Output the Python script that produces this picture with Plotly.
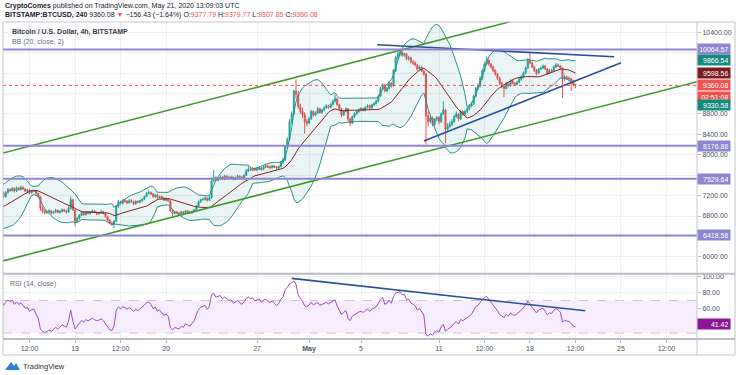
import pandas as pd
import plotly.graph_objects as go

# ---------------- data (4h candles, BITSTAMP:BTCUSD) ----------------
start_time = "2020-04-03 00:00"
first_open = 6800
closes = [
    6760, 6800, 6850, 6920, 6780, 6740,   # Apr 3
    6770, 6800, 6830, 6860, 6820, 6860,   # Apr 4
    6840, 6800, 6760, 6790, 6770, 6780,   # Apr 5
    6820, 6900, 7050, 7200, 7280, 7330,   # Apr 6
    7350, 7300, 7250, 7180, 7260, 7320,   # Apr 7
    7300, 7340, 7290, 7350, 7320, 7360,   # Apr 8
    7330, 7290, 7310, 7260, 7290, 7300,   # Apr 9
    7240, 7180, 6960, 6900, 6870, 6880,   # Apr 10
    6900, 6860, 6880, 6910, 6870, 6890,   # Apr 11
    6920, 6900, 6880, 6950, 7120, 6920,   # Apr 12
    6700, 6760, 6820, 6870, 6830, 6880,   # Apr 13
    6850, 6880, 6900, 6870, 6850, 6860,   # Apr 14
    6880, 6850, 6790, 6720, 6660, 6640,   # Apr 15
    6700, 6990, 7080, 7050, 7100, 7090,   # Apr 16
    7060, 7100, 7080, 7040, 7090, 7070,   # Apr 17
    7100, 7130, 7180, 7240, 7260, 7230,   # Apr 18
    7180, 7210, 7160, 7180, 7150, 7110,   # Apr 19
    7130, 7100, 6900, 6850, 6880, 6860,   # Apr 20
    6850, 6880, 6860, 6900, 6880, 6860,   # Apr 21
    6890, 6920, 7000, 7080, 7120, 7130,   # Apr 22
    7150, 7110, 7160, 7490, 7550, 7500,   # Apr 23
    7530, 7560, 7520, 7580, 7560, 7540,   # Apr 24
    7560, 7520, 7550, 7580, 7560, 7540,   # Apr 25
    7600, 7680, 7720, 7700, 7730, 7700,   # Apr 26
    7720, 7740, 7710, 7760, 7780, 7760,   # Apr 27
    7750, 7780, 7760, 7740, 7770, 7850,   # Apr 28
    7900, 8150, 8300, 8650, 8800, 9250,   # Apr 29
    9180, 8950, 8850, 8780, 8650, 8620,   # Apr 30
    8700, 8850, 8780, 8820, 8900, 8830,   # May 1
    8880, 8920, 8960, 8930, 8990, 9050,   # May 2
    9100, 8980, 8900, 8780, 8850, 8900,   # May 3
    8700, 8620, 8750, 8800, 8850, 8880,   # May 4
    8900, 8870, 8930, 8960, 8920, 8980,   # May 5
    9000, 9050, 9150, 9300, 9370, 9250,   # May 6
    9300, 9400, 9350, 9650, 9900, 9980,   # May 7
    10010, 9950, 9980, 9880, 9900, 9820,  # May 8
    9800, 9760, 9680, 9720, 9640, 9580,   # May 9
    8760, 8650, 8720, 8600, 8700, 8730,   # May 10
    8650, 8800, 8880, 8500, 8560, 8600,   # May 11
    8650, 8750, 8800, 8700, 8850, 8800,   # May 12
    8850, 8900, 8950, 9000, 9150, 9300,   # May 13
    9350, 9500, 9650, 9780, 9850, 9780,   # May 14
    9720, 9650, 9580, 9500, 9400, 9340,   # May 15
    9300, 9400, 9350, 9450, 9400, 9380,   # May 16
    9420, 9480, 9530, 9600, 9700, 9850,   # May 17
    9800, 9720, 9650, 9600, 9680, 9700,   # May 18
    9740, 9680, 9600, 9650, 9640, 9720,   # May 19
    9760, 9740, 9700, 9480, 9520, 9500,   # May 20
    9490, 9450, 9377.79, 9360.08,         # May 21
]
highs = [
    6830, 6820, 6870, 6990, 6940, 6800,
    6790, 6820, 6850, 6890, 6880, 6880,
    6880, 6860, 6820, 6810, 6810, 6800,
    6840, 6920, 7080, 7220, 7300, 7360,
    7420, 7460, 7330, 7280, 7290, 7350,
    7340, 7370, 7360, 7380, 7370, 7400,
    7380, 7350, 7330, 7330, 7310, 7320,
    7310, 7260, 7190, 6990, 6930, 6910,
    6930, 6920, 6900, 6940, 6930, 6910,
    6950, 6940, 6920, 6990, 7180, 7130,
    6940, 6780, 6840, 6900, 6890, 6900,
    6900, 6900, 6930, 6920, 6890, 6880,
    6920, 6900, 6870, 6810, 6740, 6690,
    6720, 7020, 7120, 7100, 7130, 7130,
    7110, 7130, 7130, 7100, 7110, 7100,
    7120, 7150, 7200, 7270, 7300, 7280,
    7250, 7230, 7230, 7200, 7200, 7170,
    7160, 7150, 7110, 6920, 6900, 6900,
    6880, 6900, 6900, 6920, 6920, 6900,
    6910, 6940, 7020, 7100, 7140, 7160,
    7180, 7170, 7190, 7560, 7700, 7580,
    7560, 7590, 7580, 7610, 7600, 7580,
    7590, 7580, 7570, 7610, 7600, 7580,
    7620, 7720, 7780, 7760, 7760, 7750,
    7750, 7770, 7760, 7790, 7800, 7800,
    7790, 7800, 7800, 7780, 7790, 7870,
    7940, 8180, 8340, 8700, 8850, 9280,
    9480, 9250, 9000, 8920, 8830, 8700,
    8740, 8880, 8870, 8850, 8940, 8920,
    8900, 8950, 8990, 8980, 9010, 9080,
    9180, 9120, 9000, 8920, 8870, 8930,
    8920, 8730, 8770, 8830, 8870, 8910,
    8930, 8920, 8950, 8990, 8980, 9000,
    9030, 9080, 9180, 9330, 9400, 9390,
    9330, 9440, 9420, 9680, 9940, 10020,
    10080, 10030, 10000, 9990, 9940, 9920,
    9860, 9830, 9780, 9750, 9740, 9660,
    9600, 8850, 8780, 8750, 8720, 8760,
    8760, 8830, 9050, 8900, 8620, 8650,
    8700, 8780, 8850, 8820, 8880, 8870,
    8880, 8930, 8980, 9040, 9180, 9330,
    9400, 9540, 9690, 9820, 9930, 9880,
    9800, 9750, 9680, 9600, 9530, 9430,
    9370, 9430, 9420, 9480, 9470, 9420,
    9450, 9510, 9560, 9630, 9730, 9890,
    9990, 9830, 9750, 9680, 9700, 9730,
    9770, 9760, 9700, 9680, 9690, 9750,
    9800, 9790, 9760, 9710, 9560, 9550,
    9530, 9510, 9470, 9379.77,
]
lows = [
    6740, 6740, 6780, 6830, 6760, 6710,
    6720, 6750, 6780, 6810, 6800, 6800,
    6820, 6780, 6730, 6740, 6750, 6750,
    6760, 6800, 6880, 7030, 7170, 7250,
    7300, 7280, 7220, 7150, 7160, 7240,
    7270, 7280, 7260, 7270, 7300, 7300,
    7310, 7270, 7270, 7230, 7240, 7270,
    7220, 7150, 6900, 6850, 6830, 6840,
    6850, 6830, 6840, 6860, 6850, 6850,
    6870, 6880, 6850, 6860, 6930, 6900,
    6590, 6660, 6730, 6800, 6800, 6810,
    6830, 6830, 6860, 6850, 6820, 6830,
    6840, 6830, 6770, 6700, 6640, 6610,
    6560, 6680, 6960, 7020, 7030, 7060,
    7030, 7040, 7060, 7010, 7020, 7050,
    7050, 7080, 7110, 7170, 7220, 7210,
    7160, 7160, 7140, 7140, 7130, 7090,
    7090, 7080, 6880, 6790, 6830, 6840,
    6820, 6830, 6840, 6840, 6860, 6840,
    6840, 6870, 6900, 6980, 7060, 7100,
    7100, 7080, 7090, 7140, 7460, 7480,
    7480, 7510, 7500, 7500, 7540, 7520,
    7520, 7500, 7500, 7530, 7540, 7510,
    7520, 7580, 7660, 7680, 7680, 7680,
    7680, 7700, 7690, 7700, 7740, 7740,
    7720, 7730, 7740, 7710, 7720, 7750,
    7820, 7880, 8120, 8280, 8600, 8780,
    9100, 8900, 8800, 8720, 8420, 8560,
    8600, 8680, 8750, 8760, 8800, 8800,
    8800, 8850, 8900, 8900, 8910, 8960,
    9020, 8960, 8870, 8740, 8760, 8830,
    8660, 8560, 8600, 8720, 8780, 8820,
    8850, 8850, 8850, 8910, 8900, 8900,
    8950, 8980, 9030, 9130, 9280, 9220,
    9230, 9280, 9320, 9330, 9620, 9860,
    9940, 9920, 9920, 9850, 9850, 9790,
    9760, 9730, 9650, 9660, 9620, 9550,
    8200, 8560, 8620, 8560, 8560, 8660,
    8600, 8620, 8780, 8230, 8450, 8530,
    8560, 8620, 8720, 8660, 8680, 8760,
    8770, 8820, 8870, 8930, 8980, 9120,
    9270, 9320, 9470, 9620, 9750, 9740,
    9690, 9620, 9550, 9470, 9370, 9300,
    9130, 9280, 9320, 9330, 9380, 9350,
    9360, 9400, 9450, 9500, 9580, 9680,
    9780, 9700, 9620, 9560, 9580, 9660,
    9680, 9660, 9570, 9580, 9610, 9620,
    9700, 9720, 9670, 9110, 9450, 9470,
    9440, 9250, 9350, 9307.85,
]

# horizontal levels (purple) and right-axis labels
levels = [10064.57, 8176.86, 7529.64, 6418.58]
bb_labels = [9866.54, 9598.56, 9330.58]          # upper, basis, lower
last_price = 9360.08
countdown = "02:51:08"
rsi_last_label = 41.42

# trend lines: (time, price) endpoints
green_upper_t = ["2020-04-07 10:55", "2020-05-30 20:25"]
green_upper_p = [8033, 11557]
green_lower_t = ["2020-04-07 10:55", "2020-05-30 20:25"]
green_lower_p = [5921, 9431]
blue_res_t = ["2020-05-06 06:00", "2020-05-24 11:20"]
blue_res_p = [10157, 9922]
blue_sup_t = ["2020-05-09 20:00", "2020-05-25 00:15"]
blue_sup_p = [8268, 9804]
rsi_trend_t = ["2020-04-29 16:00", "2020-05-22 06:00"]
rsi_trend_v = [97.2, 57.3]

# axes
x_range = ["2020-04-07 10:55", "2020-05-30 20:25"]
price_range = [5680, 10602]
rsi_range = [22.7, 102]
price_ticks = [6000, 6400, 6800, 7200, 7600, 8000, 8400, 8800, 9200, 9600, 10000, 10400]
price_ticktext = ["6000.00", "", "6800.00", "7200.00", "", "8000.00", "8400.00",
                  "8800.00", "", "", "", "10400.00"]
rsi_ticks = [40, 60, 80, 100]
rsi_ticktext = ["", "60.00", "80.00", "100.00"]
time_ticks = ["2020-04-09 12:00", "2020-04-13", "2020-04-16 12:00", "2020-04-20",
              "2020-04-27", "2020-05-01", "2020-05-05", "2020-05-11",
              "2020-05-14 12:00", "2020-05-18", "2020-05-21 12:00", "2020-05-25",
              "2020-05-28 12:00"]
time_ticktext = ["12:00", "13", "12:00", "20", "27", "<b>May</b>", "5", "11",
                 "12:00", "18", "12:00", "25", "12:00"]

# ---------------- derived series ----------------
times = pd.date_range(start_time, periods=len(closes), freq="4h")
close_s = pd.Series(closes, index=times, dtype=float)
opens = [first_open] + closes[:-1]

basis = close_s.rolling(20).mean()
dev = close_s.rolling(20).std(ddof=0)
upper = basis + 2 * dev
lower = basis - 2 * dev

chg = close_s.diff().fillna(0)
gain = chg.clip(lower=0).ewm(alpha=1 / 14, adjust=False).mean()
loss = (-chg).clip(lower=0).ewm(alpha=1 / 14, adjust=False).mean()
rsi = 100 - 100 / (1 + gain / loss)

# ---------------- styling ----------------
FONT = "Liberation Sans, Arial, sans-serif"
UP, DN = "#26a69a", "#ef5350"
PURPLE = "#8e86d2"
TEAL = "#2a8f86"
BASIS = "#872323"
GREEN = "#3e9a2c"
NAVY = "#2a4f9a"
RSI_C = "#a04ac6"
GRID = "#eef0f4"
AXIS_TXT = "#4c525e"
BORDER = "#c3c6ce"

W, H = 736, 375
ML, MR, MT, MB = 3, 39, 22, 36
PW, PH = W - ML - MR, H - MT - MB


def px(x):
    return (x - ML) / PW


def py(y):
    return (H - MB - y) / PH


fig = go.Figure()

# Bollinger bands
fig.add_trace(go.Scatter(x=times, y=upper, mode="lines", line=dict(color=TEAL, width=1),
                         hoverinfo="skip", showlegend=False, xaxis="x", yaxis="y"))
fig.add_trace(go.Scatter(x=times, y=lower, mode="lines", line=dict(color=TEAL, width=1),
                         fill="tonexty", fillcolor="rgba(19,132,132,0.09)",
                         hoverinfo="skip", showlegend=False, xaxis="x", yaxis="y"))
fig.add_trace(go.Scatter(x=times, y=basis, mode="lines", line=dict(color=BASIS, width=1),
                         hoverinfo="skip", showlegend=False, xaxis="x", yaxis="y"))

# candles
fig.add_trace(go.Candlestick(
    x=times, open=opens, high=highs, low=lows, close=closes,
    increasing=dict(line=dict(color=UP, width=1), fillcolor=UP),
    decreasing=dict(line=dict(color=DN, width=1), fillcolor=DN),
    whiskerwidth=0, showlegend=False, hoverinfo="skip", xaxis="x", yaxis="y"))

# trend lines
for tt, pp, col in [(green_upper_t, green_upper_p, GREEN),
                    (green_lower_t, green_lower_p, GREEN),
                    (blue_res_t, blue_res_p, NAVY),
                    (blue_sup_t, blue_sup_p, NAVY)]:
    fig.add_trace(go.Scatter(x=pd.to_datetime(tt), y=pp, mode="lines",
                             line=dict(color=col, width=1.6), hoverinfo="skip",
                             showlegend=False, xaxis="x", yaxis="y"))

# RSI
fig.add_trace(go.Scatter(x=times, y=rsi, mode="lines", line=dict(color=RSI_C, width=1),
                         hoverinfo="skip", showlegend=False, xaxis="x2", yaxis="y2"))
fig.add_trace(go.Scatter(x=pd.to_datetime(rsi_trend_t), y=rsi_trend_v, mode="lines",
                         line=dict(color=NAVY, width=1.6), hoverinfo="skip",
                         showlegend=False, xaxis="x2", yaxis="y2"))

shapes = []
# RSI band
shapes.append(dict(type="rect", xref="x2 domain", x0=0, x1=1, yref="y2", y0=30, y1=70,
                   fillcolor="rgba(153,21,255,0.08)", line=dict(width=0), layer="below"))
for v in (30, 70):
    shapes.append(dict(type="line", xref="x2 domain", x0=0, x1=1, yref="y2", y0=v, y1=v,
                       line=dict(color="#c9c3d3", width=1, dash="dash"), layer="below"))
# purple levels
for v in levels:
    shapes.append(dict(type="line", xref="x domain", x0=0, x1=1, yref="y", y0=v, y1=v,
                       line=dict(color=PURPLE, width=2), layer="above"))
# last price dotted line
shapes.append(dict(type="line", xref="x domain", x0=0, x1=1, yref="y", y0=last_price,
                   y1=last_price, line=dict(color=DN, width=1, dash="dot"), layer="above"))
# frame and pane separators
shapes.append(dict(type="rect", xref="paper", yref="paper", x0=0, x1=px(735),
                   y0=py(355), y1=1, line=dict(color=BORDER, width=1)))
shapes.append(dict(type="line", xref="paper", yref="paper", x0=1, x1=1,
                   y0=py(355), y1=1, line=dict(color=BORDER, width=1)))
for yy in (273.8, 339):
    shapes.append(dict(type="line", xref="paper", yref="paper", x0=0, x1=px(735),
                       y0=py(yy), y1=py(yy), line=dict(color="#b8bcc6", width=2)))
# TradingView logo mark
shapes.append(dict(type="path", xref="paper", yref="paper",
                   path=f"M {px(5)},{py(370)} L {px(11)},{py(362)} L {px(14)},{py(366)} "
                        f"L {px(16)},{py(363)} L {px(20)},{py(370)} Z",
                   fillcolor="#2f7fd8", line=dict(width=0)))
fig.update_layout(shapes=shapes)

ann = []
RED = DN
ann.append(dict(xref="paper", yref="paper", x=0, y=py(6), xanchor="left", yanchor="middle",
                showarrow=False, font=dict(family=FONT, size=7, color="#1e222d"),
                text="<b>CryptoComes</b> published on TradingView.com, May 21, 2020 13:09:03 UTC"))
ann.append(dict(xref="paper", yref="paper", x=0, y=py(15.5), xanchor="left", yanchor="middle",
                showarrow=False, font=dict(family=FONT, size=7, color="#1e222d"),
                text=(f"<b>BITSTAMP:BTCUSD, 240</b> {last_price:.2f} "
                      f"<span style='color:{RED}'>▼</span> −156.43 (−1.64%) "
                      f"O:<span style='color:{RED}'>9377.79</span> "
                      f"H:<span style='color:{RED}'>9379.77</span> "
                      f"L:<span style='color:{RED}'>9307.85</span> "
                      f"C:<span style='color:{RED}'>{last_price:.2f}</span>")))
ann.append(dict(xref="paper", yref="paper", x=px(10), y=py(32), xanchor="left",
                yanchor="middle", showarrow=False,
                font=dict(family=FONT, size=7, color="#3a3e4a"),
                text="<b>Bitcoin / U.S. Dollar, 4h, BITSTAMP</b>"))
ann.append(dict(xref="paper", yref="paper", x=px(10), y=py(42), xanchor="left",
                yanchor="middle", showarrow=False,
                font=dict(family=FONT, size=7, color="#6a6d78"),
                text="BB (20, close, 2)"))
ann.append(dict(xref="paper", yref="paper", x=px(8), y=py(283.5), xanchor="left",
                yanchor="middle", showarrow=False,
                font=dict(family=FONT, size=7, color="#6a6d78"),
                text="RSI (14, close)"))
ann.append(dict(xref="paper", yref="paper", x=px(21), y=py(366), xanchor="left",
                yanchor="middle", showarrow=False,
                font=dict(family=FONT, size=7.5, color="#2a2e39"),
                text="TradingView"))


def axis_label(val, text, bg, yref="y", shift=0):
    return dict(xref="paper", yref=yref, x=1, y=val, xanchor="left", yanchor="middle",
                showarrow=False, text=text, bgcolor=bg, borderpad=1.5, width=29,
                align="right", yshift=shift,
                font=dict(family=FONT, size=7, color="white"))


for v in levels:
    ann.append(axis_label(v, f"{v:.2f}", PURPLE))
ann.append(axis_label(bb_labels[0], f"{bb_labels[0]:.2f}", "#178a80"))
ann.append(axis_label(bb_labels[1], f"{bb_labels[1]:.2f}", "#7a1c1c"))
ann.append(axis_label(last_price, f"{last_price:.2f}", RED))
ann.append(axis_label(last_price, countdown, RED, shift=-11.5))
ann.append(axis_label(bb_labels[2], f"{bb_labels[2]:.2f}", "#178a80", shift=-18.5))
ann.append(axis_label(rsi_last_label, f"{rsi_last_label:.2f}", "#8e1599", yref="y2"))
fig.update_layout(annotations=ann)

tickfont = dict(family=FONT, size=7, color=AXIS_TXT)
fig.update_layout(
    width=W, height=H,
    margin=dict(l=ML, r=MR, t=MT, b=MB),
    paper_bgcolor="white", plot_bgcolor="white",
    showlegend=False,
    hovermode=False,
    xaxis=dict(domain=[0, 1], range=x_range, anchor="y", tickvals=time_ticks,
               ticktext=time_ticktext, showticklabels=False, showgrid=True,
               gridcolor=GRID, gridwidth=1, zeroline=False, showline=False,
               rangeslider=dict(visible=False), ticks=""),
    xaxis2=dict(domain=[0, 1], range=x_range, anchor="y2", matches="x",
                tickvals=time_ticks, ticktext=time_ticktext, showticklabels=True,
                tickfont=tickfont, showgrid=True, gridcolor=GRID, zeroline=False,
                showline=False, ticks="outside", ticklen=3, tickcolor="#b8bcc6"),
    yaxis=dict(domain=[py(273.8) + 0.002, 1], range=price_range, side="right",
               anchor="x", tickvals=price_ticks, ticktext=price_ticktext,
               tickfont=tickfont, showgrid=True, gridcolor=GRID, zeroline=False,
               showline=False, ticks="outside", ticklen=3, tickcolor="#b8bcc6"),
    yaxis2=dict(domain=[0, py(273.8) - 0.002], range=rsi_range, side="right",
                anchor="x2", tickvals=rsi_ticks, ticktext=rsi_ticktext,
                tickfont=tickfont, showgrid=True, gridcolor=GRID, zeroline=False,
                showline=False, ticks="outside", ticklen=3, tickcolor="#b8bcc6"),
)

fig.write_html(
    "out.html",
    config={"displayModeBar": False},
    post_script="document.body.style.margin='0';document.body.style.overflow='hidden';",
)
